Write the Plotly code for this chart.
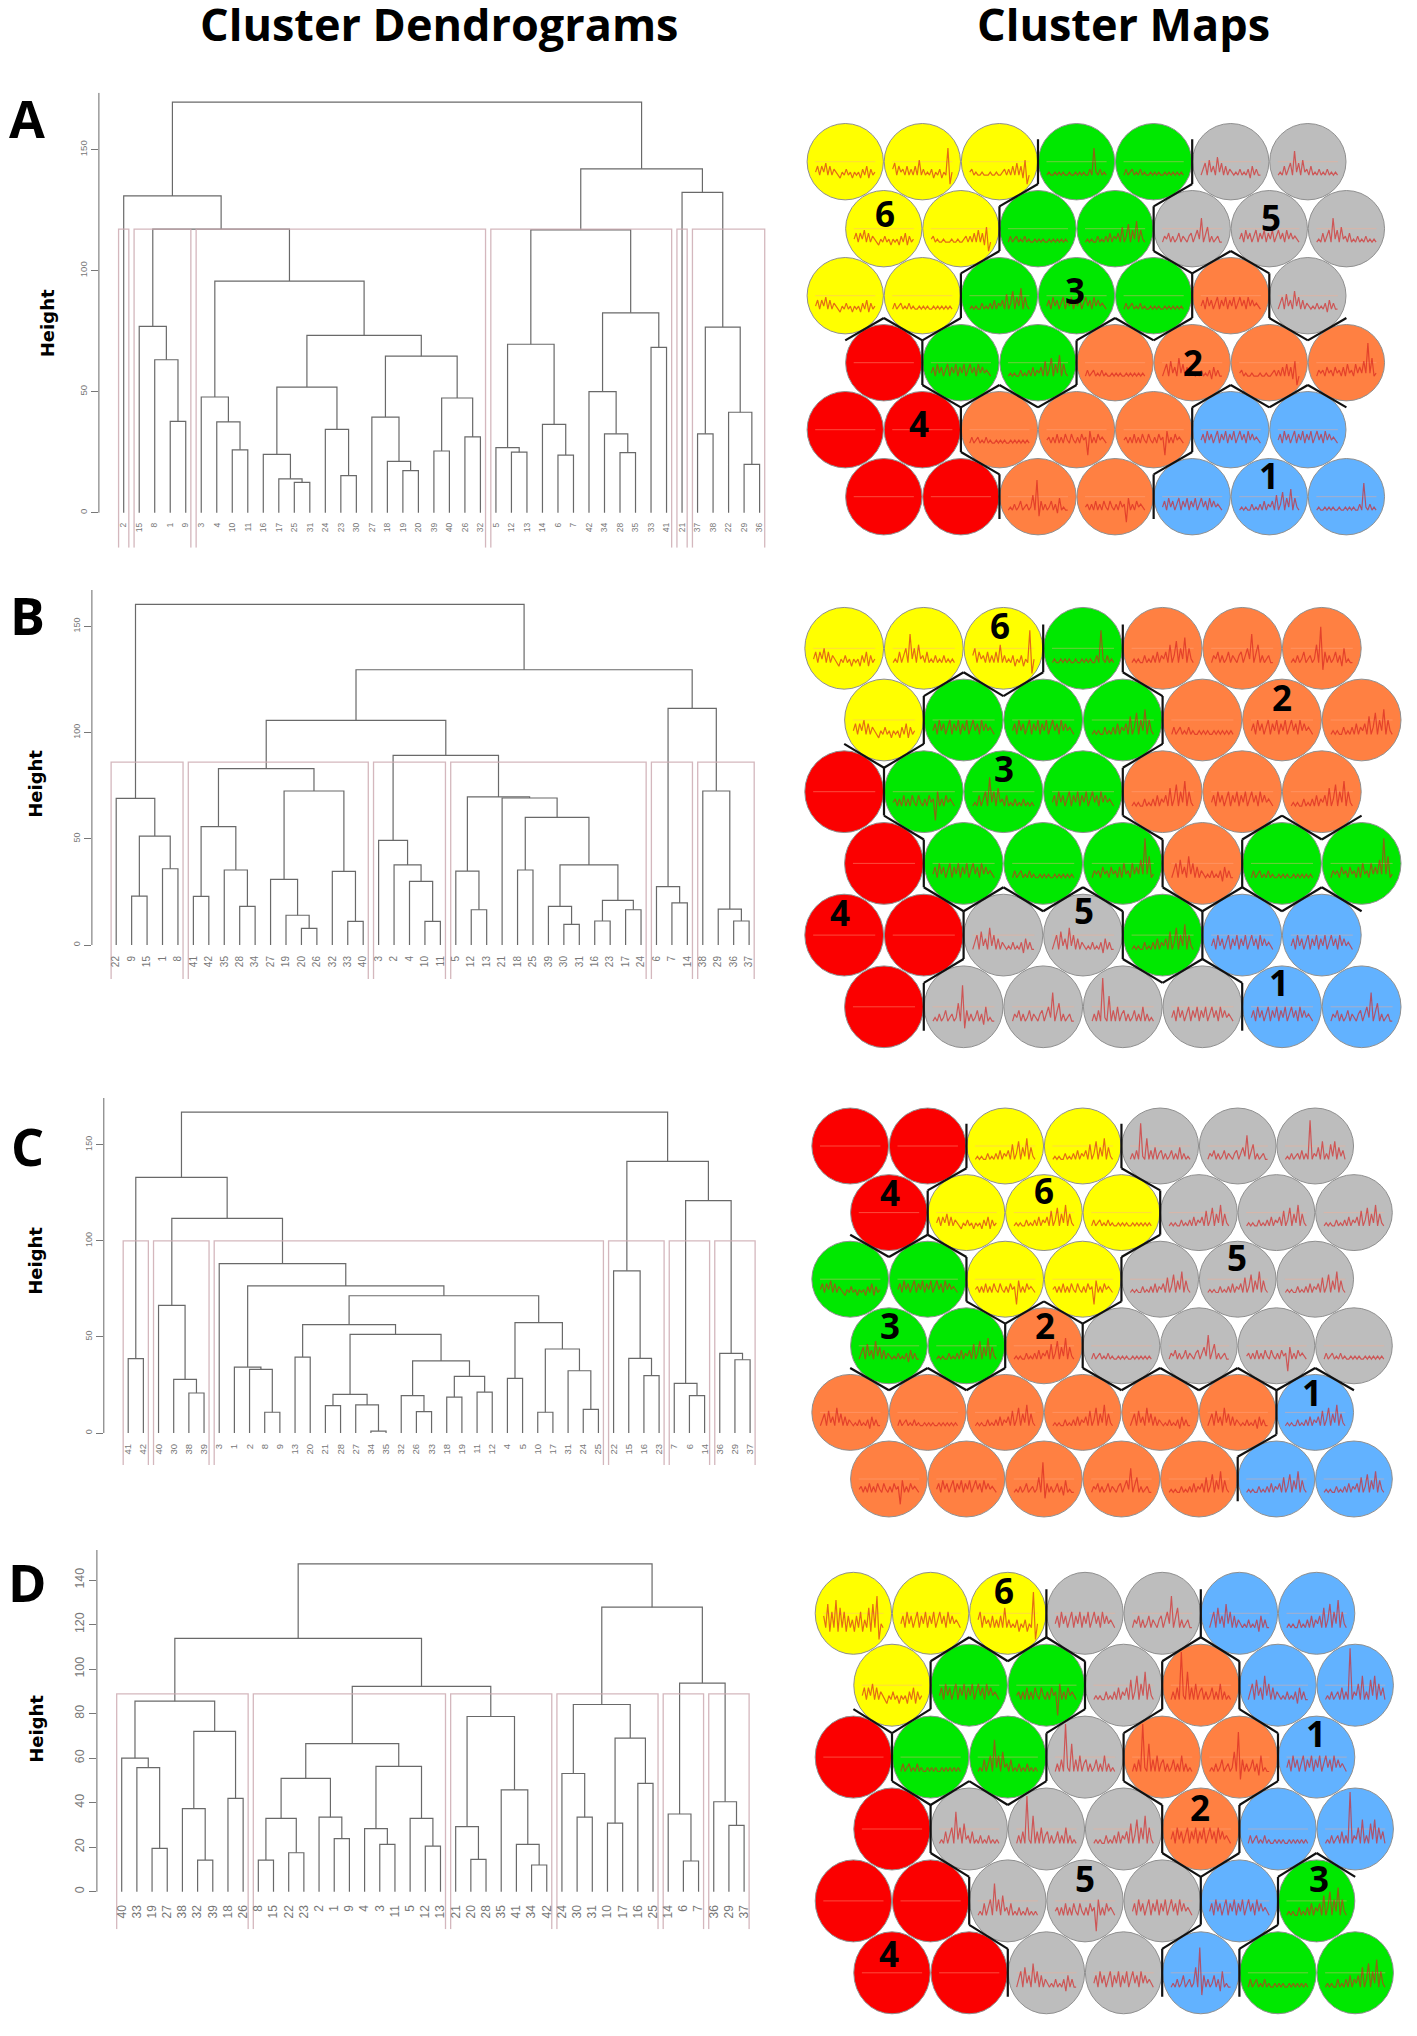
"""Cluster dendrograms (left) and SOM cluster maps (right), panels A-D."""
import plotly.graph_objects as go

# the page body keeps its default 8 px margin, so the figure is 16 px smaller
BODY = 8
W, H = 1417 - 2 * BODY, 2036 - 2 * BODY

# ---- dendrogram trees: (height, left, right), a bare int is a leaf label
tree_a = (169.7,
          (130.9, 2,
           (117.2,
            (77, 15, (63.2, 8, (37.7, 1, 9))),
            (95.7,
             (47.8, 3, (37.5, 4, (26, 10, 11))),
             (73.3,
              (51.9,
               (24.1, 16, (14, 17, (12.5, 25, 31))),
               (34.4, 24, (15.3, 23, 30))),
              (64.7,
               (39.5, 27, (21.2, 18, (17.4, 19, 20))),
               (47.4, (25.5, 39, 40), (31.3, 26, 32))))))),
          (142.1,
           (116.9,
            (69.6,
             (26.9, 5, (25, 12, 13)),
             (36.5, 14, (23.8, 6, 7))),
            (82.6,
             (50, 42, (32.6, 34, (24.8, 28, 35))),
             (68.3, 33, 41))),
           (132.4, 21,
            (76.7, (32.6, 37, 38), (41.5, 22, (20, 29, 36))))))

tree_b = (160.4,
          (69, 22, (51.3, (23, 9, 15), (35.9, 1, 8))),
          (129.6,
           (105.8,
            (83,
             (55.7, (22.9, 41, 42), (35.3, 35, (18.2, 28, 34))),
             (72.5,
              (30.9, 27, (14, 19, (7.8, 20, 26))),
              (34.7, 32, (11.1, 33, 40)))),
            (89.3,
             (49.3, 3, (37.7, 2, (30, 4, (11.1, 10, 11)))),
             (69.7,
              (34.8, 5, (16.6, 12, 13)),
              (69.2, 21,
               (60.1,
                (35.3, 18, 25),
                (37.7,
                 (18.2, 39, (9.7, 30, 31)),
                 (21, (11.3, 16, 23), (16.6, 17, 24)))))))),
           (111.4,
            (27.5, 6, (19.8, 7, 14)),
            (72.5, 38, (16.9, 29, (11.3, 36, 37))))))

tree_c = (167,
          (133,
           (38.7, 41, 42),
           (111.7,
            (66.4, 40, (27.9, 30, (20.8, 38, 39))),
            (88.1, 3,
             (76.5,
              (34.3, 1, (33.1, 2, (10.8, 8, 9))),
              (71.4,
               (56.4,
                (39.5, 13, 20),
                (51.3,
                 (20.1, (14.2, 21, 28), (14.6, 27, (1, 34, 35))),
                 (37.5,
                  (19.4, 32, (11.1, 26, 33)),
                  (29.5, (18.7, 18, 19), (21.3, 11, 12))))),
               (57.4,
                (28.4, 4, 5),
                (43.7,
                 (10.8, 10, 17),
                 (32.4, 31, (12.3, 24, 25))))))))),
          (141.3,
           (84.4, 22, (38.8, 15, (29.8, 16, 23))),
           (120.9,
            (25.8, 7, (19.4, 6, 14)),
            (41.4, 36, (38.1, 29, 37)))))

tree_d = (147.3,
          (113.8,
           (85.6,
            (60, 40, (55.7, 33, (19.5, 19, 27))),
            (72, (37.3, 38, (14.2, 32, 39)), (41.9, 18, 26))),
           (92.2,
            (66.5,
             (50.9,
              (32.9, (14.2, 8, 15), (17.5, 22, 23)),
              (33.5, 2, (23.8, 1, 9))),
             (56.3,
              (28.3, 4, (21.3, 3, 11)),
              (32.9, 5, (20.5, 12, 13)))),
            (78.7,
             (29.2, 21, (14.5, 20, 28)),
             (45.7, 35, (21.3, 41, (12, 34, 42)))))),
          (127.8,
           (84.1,
            (53.1, 24, (33.5, 30, 31)),
            (69, (30.8, 10, 17), (48.7, 16, 25))),
           (93.7,
            (34.9, 14, (13.8, 6, 7)),
            (40.4, 36, (29.8, 29, 37)))))

# rect.hclust cut height and how many leaves each box holds
cut_a, sizes_a = 117.2, [1, 4, 19, 12, 1, 5]
cut_b, sizes_b = 86.1, [5, 12, 5, 13, 3, 4]
cut_c, sizes_c = 100, [2, 4, 26, 4, 3, 3]
cut_d, sizes_d = 88.9, [9, 13, 7, 7, 3, 3]

ticks_a = [0, 50, 100, 150]
ticks_d = [0, 20, 40, 60, 80, 100, 120, 140]

# ---- SOM maps: cluster number of every cell, top row first
cells_a = [[6, 6, 6, 3, 3, 5, 5],
           [6, 6, 3, 3, 5, 5, 5],
           [6, 6, 3, 3, 3, 2, 5],
           [4, 3, 3, 2, 2, 2, 2],
           [4, 4, 2, 2, 2, 1, 1],
           [4, 4, 2, 2, 1, 1, 1]]
cells_b = [[6, 6, 6, 3, 2, 2, 2],
           [6, 3, 3, 3, 2, 2, 2],
           [4, 3, 3, 3, 2, 2, 2],
           [4, 3, 3, 3, 2, 3, 3],
           [4, 4, 5, 5, 3, 1, 1],
           [4, 5, 5, 5, 5, 1, 1]]
cells_c = [[4, 4, 6, 6, 5, 5, 5],
           [4, 6, 6, 6, 5, 5, 5],
           [3, 3, 6, 6, 5, 5, 5],
           [3, 3, 2, 5, 5, 5, 5],
           [2, 2, 2, 2, 2, 2, 1],
           [2, 2, 2, 2, 2, 1, 1]]
cells_d = [[6, 6, 6, 5, 5, 1, 1],
           [6, 3, 3, 5, 2, 1, 1],
           [4, 3, 3, 5, 2, 2, 1],
           [4, 5, 5, 5, 2, 1, 1],
           [4, 4, 5, 5, 5, 1, 3],
           [4, 4, 5, 5, 1, 3, 3]]

cluster_colors = {1: "#62b2ff", 2: "#ff8042", 3: "#00e800",
                  4: "#fb0000", 5: "#bdbdbd", 6: "#ffff00"}

# mini spectra, read roughly off the cells; the cells point at them by index
spectra = [
    [4, 6, 3, 6, 4, 7, 3, 6, 3, 5, 4, 3, 2, 4, 3, 5, 3, 4, 2, 4, 3, 4, 2, 5, 3, 6, 2, 5, 3, 4],
    [5, 7, 3, 6, 4, 5, 3, 6, 3, 5, 3, 6, 3, 8, 3, 5, 3, 4, 3, 5, 2, 4, 3, 5, 2, 4, 3, 12, 0, 4],
    [4, 5, 3, 4, 3, 3, 4, 3, 3, 3, 4, 3, 3, 4, 3, 3, 4, 5, 3, 5, 3, 6, 3, 7, 3, 6, 2, 8, 0, 3],
    [3, 4, 3, 3, 4, 3, 4, 3, 4, 3, 3, 4, 3, 3, 4, 3, 4, 3, 4, 3, 3, 5, 3, 12, 4, 3, 5, 3, 4, 3],
    [3, 5, 3, 4, 5, 3, 4, 3, 5, 3, 4, 3, 3, 4, 3, 4, 3, 4, 3, 3, 4, 3, 4, 3, 4, 3, 4, 3, 4, 3],
    [3, 5, 7, 3, 8, 4, 6, 3, 9, 4, 7, 3, 6, 3, 5, 4, 3, 4, 3, 5, 3, 4, 3, 5, 2, 6, 3, 5, 3, 3],
    [3, 4, 3, 6, 3, 5, 7, 3, 11, 4, 7, 3, 8, 4, 5, 3, 6, 3, 4, 3, 5, 3, 4, 3, 5, 3, 4, 3, 4, 3],
    [3, 5, 4, 6, 3, 5, 3, 4, 6, 3, 5, 4, 3, 5, 6, 3, 5, 7, 4, 11, 3, 6, 8, 3, 5, 3, 4, 5, 3, 3],
    [4, 6, 3, 7, 4, 6, 3, 5, 7, 3, 6, 4, 7, 3, 6, 4, 7, 3, 5, 7, 4, 6, 3, 7, 4, 6, 4, 5, 4, 3],
    [3, 4, 3, 5, 3, 4, 6, 3, 4, 5, 3, 4, 8, 3, 13, 1, 6, 3, 5, 3, 4, 6, 3, 5, 2, 7, 3, 4, 3, 3],
    [3, 4, 3, 4, 3, 3, 5, 3, 4, 3, 5, 3, 6, 3, 5, 4, 6, 3, 8, 3, 5, 9, 3, 7, 4, 10, 3, 7, 4, 3],
    [3, 5, 4, 5, 3, 6, 4, 5, 3, 6, 4, 5, 3, 6, 3, 7, 4, 5, 3, 7, 4, 6, 4, 8, 4, 14, 4, 9, 3, 4],
    [4, 5, 3, 5, 3, 6, 3, 5, 3, 6, 4, 3, 6, 4, 3, 5, 3, 6, 4, 5, -1, 7, 3, 5, 3, 6, 4, 5, 4, 3],
    [6, 3, 9, 2, 7, 3, 10, 2, 8, 3, 7, 2, 6, 3, 5, 2, 6, 3, 7, 2, 5, 3, 8, 2, 9, 3, 11, 0, 4, 3],
    [3, 5, 3, 6, 3, 15, 4, 3, 10, 3, 6, 3, 7, 3, 5, 6, 3, 5, 3, 4, 6, 3, 5, 3, 7, 3, 5, 3, 4, 3],
    [3, 4, 3, 5, 3, 4, 5, 3, 6, 3, 5, 3, 16, 3, 5, 4, 7, 3, 9, 3, 5, 3, 8, 4, 9, 3, 7, 4, 6, 3],
]

# -1 = no spectrum drawn (the red cells are flat)
spec_a = [[0, 1, 2, 3, 4, 5, 6],
          [0, 2, 4, 10, 7, 8, 6],
          [0, 4, 10, 8, 4, 8, 5],
          [-1, 8, 10, 4, 5, 2, 11],
          [-1, -1, 4, 12, 12, 8, 8],
          [-1, -1, 9, 12, 8, 10, 3]]
spec_b = [[0, 6, 1, 3, 10, 7, 9],
          [0, 8, 8, 10, 4, 8, 10],
          [-1, 12, 6, 8, 10, 8, 10],
          [-1, 8, 4, 11, 5, 4, 11],
          [-1, -1, 5, 5, 10, 8, 8],
          [-1, 9, 7, 14, 8, 8, 7]]
spec_c = [[-1, -1, 10, 10, 14, 7, 15],
          [-1, 0, 10, 4, 10, 10, 10],
          [0, 8, 12, 12, 10, 10, 10],
          [5, 10, 10, 4, 7, 12, 4],
          [5, 4, 10, 10, 5, 5, 10],
          [12, 8, 9, 7, 10, 10, 10]]
spec_d = [[13, 8, 1, 8, 7, 5, 10],
          [0, 8, 12, 10, 14, 5, 15],
          [-1, 4, 6, 14, 14, 9, 8],
          [-1, 6, 14, 10, 8, 4, 15],
          [-1, -1, 6, 12, 8, 8, 10],
          [-1, -1, 5, 8, 9, 4, 10]]

headers = ["Cluster Dendrograms", "Cluster Maps"]

# ---- page geometry, all in screen pixels
panels = [
    dict(letter="A", letter_y=122, tree=tree_a, cut=cut_a, sizes=sizes_a, ticks=ticks_a,
         axis_x=98.9, leaf0=123.7, leaf1=759.6, zero=512.7, per_unit=2.42, top=92.7,
         bottom=547.7, leaf_top=520, leaf_font=8.5, tick_font=9.6, height_x=47.2, height_y=323,
         cells=cells_a, spec=spec_a, x0=845.25, dx=77.1, y0=161.7, dy=67, amp=0.045,
         numbers=[("6", 884.8, 216.7), ("5", 1270.6, 220), ("3", 1075.2, 293),
                  ("2", 1192.8, 365), ("4", 919.2, 426.7), ("1", 1268.7, 478)]),
    dict(letter="B", letter_y=619, tree=tree_b, cut=cut_b, sizes=sizes_b, ticks=ticks_a,
         axis_x=91.9, leaf0=116.2, leaf1=749.1, zero=945, per_unit=2.124, top=590,
         bottom=979, leaf_top=953, leaf_font=10, tick_font=9, height_x=34.8, height_y=784,
         cells=cells_b, spec=spec_b, x0=844.2, dx=79.6, y0=648.3, dy=71.7, amp=0.05,
         numbers=[("6", 999.9, 628), ("2", 1281.7, 700), ("3", 1003.5, 771.7),
                  ("5", 1084.1, 913), ("4", 840.2, 915), ("1", 1278.9, 985)]),
    dict(letter="C", letter_y=1150, tree=tree_c, cut=cut_c, sizes=sizes_c, ticks=ticks_a,
         axis_x=103.8, leaf0=128.2, leaf1=750.1, zero=1433, per_unit=1.922, top=1098,
         bottom=1465, leaf_top=1441, leaf_font=9.5, tick_font=9, height_x=34.8, height_y=1261,
         cells=cells_c, spec=spec_c, x0=850.2, dx=77.5, y0=1146, dy=66.6, amp=0.045,
         numbers=[("4", 890.4, 1195), ("6", 1044, 1193), ("5", 1236.7, 1260.7),
                  ("3", 890.4, 1328), ("2", 1044.9, 1328), ("1", 1311.7, 1395)]),
    dict(letter="D", letter_y=1586, tree=tree_d, cut=cut_d, sizes=sizes_d, ticks=ticks_d,
         axis_x=96.9, leaf0=121.7, leaf1=744.1, zero=1891.7, per_unit=2.226, top=1550,
         bottom=1929.3, leaf_top=1901.7, leaf_font=12, tick_font=12.4, height_x=35.8, height_y=1729,
         cells=cells_d, spec=spec_d, x0=853.4, dx=77.2, y0=1613.3, dy=71.9, amp=0.055,
         numbers=[("6", 1003.5, 1593), ("1", 1315.7, 1736.7), ("2", 1200.2, 1810),
                  ("5", 1085, 1881.7), ("3", 1319, 1881.7), ("4", 889.2, 1956.7)]),
]


def px_x(v):
    return (v - BODY) / W


def px_y(v):
    return 1 - (v - BODY) / H


def walk(node, xs, ys, labels):
    """Lay the leaves out left to right, append the segments, return (x, height)."""
    if isinstance(node, int):
        labels.append(node)
        return len(labels) - 1, 0
    h, left, right = node
    xl, hl = walk(left, xs, ys, labels)
    xr, hr = walk(right, xs, ys, labels)
    xs += [xl, xl, xr, xr, None]
    ys += [hl, h, h, hr, None]
    return (xl + xr) / 2, h


def ax_id(n):
    return "" if n == 1 else str(n)


fig = go.Figure()
layout = {}
shapes = []
notes = []


def note(text, x, y, size, family="Open Sans", color="black", angle=0, lift=0.08):
    # lift: Open Sans sits low in its line box
    notes.append(dict(text=f"<b>{text}</b>", x=px_x(x), y=px_y(y - size * lift),
                      xref="paper", yref="paper", showarrow=False, xanchor="center",
                      yanchor="middle", textangle=angle,
                      font=dict(family=family, size=size, color=color)))


for i, p in enumerate(panels):
    # dendrogram subplot
    n = ax_id(i + 1)
    xs, ys, labels = [], [], []
    walk(p["tree"], xs, ys, labels)

    step = (p["leaf1"] - p["leaf0"]) / (len(labels) - 1)
    right_px = p["leaf1"] + 20
    x_range = [(p["axis_x"] - p["leaf0"]) / step, len(labels) - 1 + 20 / step]
    y_low = (p["zero"] - p["bottom"]) / p["per_unit"]
    y_high = (p["zero"] - p["top"]) / p["per_unit"]

    box_x, box_y = [], []
    start = 0
    for size in p["sizes"]:
        lo, hi = start - 0.33, start + size - 1 + 0.33
        box_x += [lo, lo, hi, hi, None]
        box_y += [y_low, p["cut"], p["cut"], y_low, None]
        start += size

    fig.add_trace(go.Scatter(x=xs, y=ys, mode="lines", xaxis=f"x{n}", yaxis=f"y{n}",
                             line=dict(color="#696969", width=1.2), hoverinfo="skip"))
    fig.add_trace(go.Scatter(x=box_x, y=box_y, mode="lines", xaxis=f"x{n}", yaxis=f"y{n}",
                             line=dict(color="rgba(205,170,178,0.85)", width=1.3),
                             hoverinfo="skip"))

    layout[f"xaxis{n}"] = dict(
        domain=[px_x(p["axis_x"]), px_x(right_px)], range=x_range, anchor="free",
        position=px_y(p["leaf_top"]), showgrid=False, zeroline=False, showline=False,
        ticks="", tickmode="array", tickvals=list(range(len(labels))),
        ticktext=[str(v) for v in labels], tickangle=-90,
        tickfont=dict(family="Liberation Sans", size=p["leaf_font"], color="#777777"))
    layout[f"yaxis{n}"] = dict(
        domain=[px_y(p["bottom"]), px_y(p["top"])], range=[y_low, y_high], anchor=f"x{n}",
        showgrid=False, zeroline=False, showline=False, ticks="outside", ticklen=7,
        tickcolor="#777777", tickmode="array", tickvals=p["ticks"], tickangle=-90,
        tickfont=dict(family="Liberation Sans", size=p["tick_font"], color="#777777"))
    shapes.append(dict(type="line", xref=f"x{n} domain", yref=f"y{n}", x0=0, x1=0,
                       y0=0, y1=y_high, line=dict(color="#696969", width=1)))

    # the reference letter starts 2 px in, but the page margin leaves 8 px
    note(p["letter"], 27, p["letter_y"], 52)
    note("Height", p["height_x"], p["height_y"], 18, family="DejaVu Sans", angle=-90, lift=0)

    # cluster map subplot
    m = i + 5
    rows = p["cells"]
    base_x, base_y, line_x, line_y, edge_x, edge_y = [], [], [], [], [], []
    for r, row in enumerate(rows):
        for c, cluster in enumerate(row):
            cx = c + 0.5 * (r % 2)
            shapes.append(dict(type="circle", xref=f"x{m}", yref=f"y{m}", layer="below",
                               x0=cx - 0.495, x1=cx + 0.495, y0=r - 0.57, y1=r + 0.57,
                               fillcolor=cluster_colors[cluster],
                               line=dict(color="#8f8f8f", width=1)))

            base_x += [cx - 0.39, cx + 0.39, None]
            base_y += [r, r, None]
            if p["spec"][r][c] >= 0:
                values = spectra[p["spec"][r][c]]
                for k, v in enumerate(values):
                    line_x.append(cx - 0.385 + 0.77 * k / (len(values) - 1))
                    line_y.append(r + 0.2 - (v - 3) * p["amp"])
                line_x.append(None)
                line_y.append(None)

            # hexagon edges shared with a different cluster
            if c + 1 < len(row) and row[c + 1] != cluster:
                edge_x += [cx + 0.5, cx + 0.5, None]
                edge_y += [r - 1 / 3, r + 1 / 3, None]
            if r + 1 < len(rows):
                low_left = c - 1 + (r % 2)
                low_right = c + (r % 2)
                if 0 <= low_left < 7 and rows[r + 1][low_left] != cluster:
                    edge_x += [cx - 0.5, cx, None]
                    edge_y += [r + 1 / 3, r + 2 / 3, None]
                if 0 <= low_right < 7 and rows[r + 1][low_right] != cluster:
                    edge_x += [cx, cx + 0.5, None]
                    edge_y += [r + 2 / 3, r + 1 / 3, None]

    fig.add_trace(go.Scatter(x=base_x, y=base_y, mode="lines", xaxis=f"x{m}", yaxis=f"y{m}",
                             line=dict(color="rgba(255,170,140,0.55)", width=0.8),
                             hoverinfo="skip"))
    fig.add_trace(go.Scatter(x=line_x, y=line_y, mode="lines", xaxis=f"x{m}", yaxis=f"y{m}",
                             line=dict(color="rgba(214,30,30,0.65)", width=1.2),
                             hoverinfo="skip"))
    fig.add_trace(go.Scatter(x=edge_x, y=edge_y, mode="lines", xaxis=f"x{m}", yaxis=f"y{m}",
                             line=dict(color="#111111", width=2.2), hoverinfo="skip"))

    layout[f"xaxis{m}"] = dict(
        domain=[px_x(p["x0"] - p["dx"]), px_x(p["x0"] + 7.03 * p["dx"])], range=[-1, 7.03],
        anchor=f"y{m}", visible=False)
    layout[f"yaxis{m}"] = dict(
        domain=[px_y(p["y0"] + 5.7 * p["dy"]), px_y(p["y0"] - p["dy"])], range=[5.7, -1],
        anchor=f"x{m}", visible=False)

    for text, x, y in p["numbers"]:
        note(text, x, y, 35)

note(headers[0], 438.5, 27, 45)
note(headers[1], 1123, 27, 45)

fig.update_layout(width=W, height=H, margin=dict(l=0, r=0, t=0, b=0), showlegend=False,
                  paper_bgcolor="white", plot_bgcolor="rgba(0,0,0,0)",
                  shapes=shapes, annotations=notes, **layout)

fig.write_html("out.html")
